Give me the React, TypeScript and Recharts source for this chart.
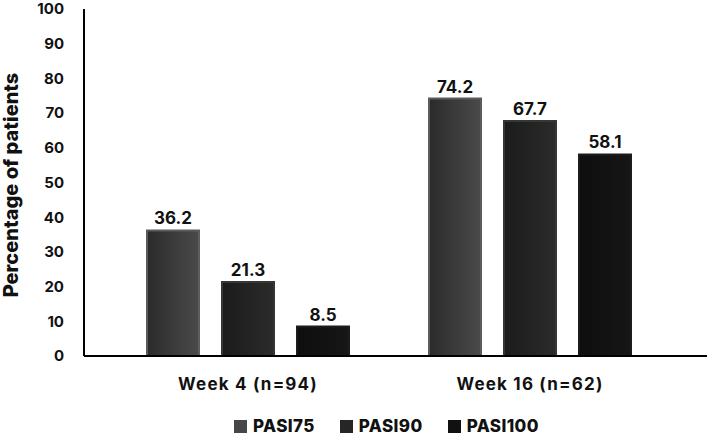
import { BarChart, Bar, XAxis, YAxis, LabelList } from "recharts";

const weeks = ["Week 4 (n=94)", "Week 16 (n=62)"];
const pasi75 = [36.2, 74.2];
const pasi90 = [21.3, 67.7];
const pasi100 = [8.5, 58.1];
const yTicks = [0, 10, 20, 30, 40, 50, 60, 70, 80, 90, 100];

const series = [
  { key: "PASI75", values: pasi75, from: "#2b2b2b", to: "#4a4a4a", edge: "#5c5c5c", icon: "#474747" },
  { key: "PASI90", values: pasi90, from: "#1b1b1b", to: "#2b2b2b", edge: "#363636", icon: "#262626" },
  { key: "PASI100", values: pasi100, from: "#0e0e0e", to: "#161616", edge: "#1c1c1c", icon: "#111111" },
];

const data = weeks.map((week, i) => {
  const row: Record<string, string | number> = { week };
  series.forEach((s) => (row[s.key] = s.values[i]));
  return row;
});

const font = "Inter, 'Noto Sans', sans-serif";

function LegendRow() {
  return (
    <div
      style={{
        position: "absolute",
        top: 416,
        left: 0,
        width: 709,
        display: "flex",
        justifyContent: "center",
        gap: 25,
        fontFamily: font,
        fontWeight: 800,
        fontSize: 17,
        lineHeight: "20px",
        letterSpacing: 0.4,
        color: "#111",
        paddingLeft: 64,
        boxSizing: "border-box",
      }}
    >
      {series.map((s) => (
        <div key={s.key} style={{ display: "flex", alignItems: "center", gap: 6 }}>
          <span style={{ width: 13, height: 13, background: s.icon, display: "inline-block" }} />
          <span>{s.key}</span>
        </div>
      ))}
    </div>
  );
}

const yLabel = () => (
  <text
    transform="translate(18,185) rotate(-90)"
    textAnchor="middle"
    fill="#111"
    style={{ fontFamily: font, fontWeight: 800, fontSize: 20 }}
  >
    Percentage of patients
  </text>
);

export default function App() {
  return (
    <div style={{ position: "absolute", left: 0, top: 0, width: 709, height: 437, background: "#fff" }}>
      <BarChart
        width={709}
        height={437}
        data={data}
        margin={{ top: 9, right: 2, bottom: 41, left: 0 }}
        barSize={52}
        barGap={23}
      >
        <defs>
          {series.map((s) => (
            <linearGradient key={s.key} id={`g-${s.key}`} x1="0" y1="0" x2="1" y2="0">
              <stop offset="0%" stopColor={s.from} />
              <stop offset="100%" stopColor={s.to} />
            </linearGradient>
          ))}
        </defs>
        <XAxis
          dataKey="week"
          height={40}
          axisLine={{ stroke: "#000", strokeWidth: 2 }}
          tickLine={false}
          padding={{ left: 23, right: 36 }}
          tick={{ fill: "#111", fontFamily: font, fontWeight: 700, fontSize: 17, letterSpacing: 1.2 }}
          tickMargin={16}
        />
        <YAxis
          width={84}
          domain={[0, 100]}
          ticks={yTicks}
          interval={0}
          axisLine={{ stroke: "#000", strokeWidth: 2 }}
          tickLine={false}
          tickSize={0}
          tickMargin={20}
          tick={{ fill: "#111", fontFamily: font, fontWeight: 700, fontSize: 15 }}
          label={{ content: yLabel }}
        />
        {series.map((s) => (
          <Bar
            key={s.key}
            dataKey={s.key}
            fill={`url(#g-${s.key})`}
            stroke={s.edge}
            strokeWidth={2}
            isAnimationActive={false}
          >
            <LabelList
              dataKey={s.key}
              position="top"
              offset={6}
              style={{ fill: "#111", fontFamily: font, fontWeight: 700, fontSize: 17 }}
            />
          </Bar>
        ))}
      </BarChart>
      <LegendRow />
    </div>
  );
}
